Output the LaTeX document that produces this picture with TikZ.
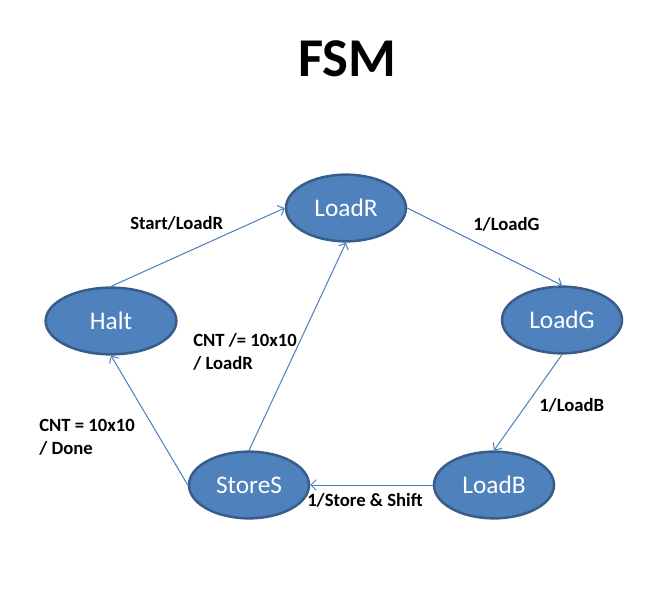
\documentclass[tikz,border=0pt]{standalone}
\usepackage{fontspec}
\setmainfont{Carlito}
\usetikzlibrary{shapes.geometric,arrows.meta}
\definecolor{stfill}{HTML}{4F81BD}
\definecolor{stdraw}{HTML}{385D8A}
\definecolor{edgecol}{HTML}{4A7EBB}
\tikzset{
  state/.style={ellipse, fill=stfill, draw=stdraw, line width=1.9pt,
    minimum width=90pt, minimum height=50pt, inner sep=0pt,
    text=white, font=\fontsize{19}{22}\selectfont},
  trans/.style={draw=edgecol, line width=0.75pt,
    -{Straight Barb[length=4pt,width=8pt,line width=0.75pt]}},
  lbl/.style={anchor=west, inner sep=0pt, align=left,
    font=\fontsize{14}{17.2}\selectfont\bfseries},
}
\begin{document}
\begin{tikzpicture}[x=0.75pt,y=-0.75pt]
\useasboundingbox (0,0) rectangle (669,614);
\node[inner sep=0pt, font=\fontsize{41}{45}\selectfont\bfseries] (title) at (347,59) {FSM};
\node[state] (LoadR) at (346,208) {LoadR};
\node[state] (LoadG) at (562,320) {LoadG};
\node[state, minimum width=98pt] (Halt) at (111,321) {Halt};
\node[state] (StoreS) at (249,485) {StoreS};
\node[state] (LoadB) at (494,485) {LoadB};
\draw[trans] (Halt.north) -- (LoadR.west);
\draw[trans] (LoadR.east) -- (LoadG.north);
\draw[trans] (LoadG.south) -- (LoadB.north);
\draw[trans] (LoadB.west) -- (StoreS.east);
\draw[trans] (StoreS.north) -- (LoadR.south);
\draw[trans] (StoreS.west) -- (Halt.south);
\node[lbl] (l1) at (130,223) {Start/LoadR};
\node[lbl] (l2) at (473,224) {1/LoadG};
\node[lbl] (l3) at (539,405) {1/LoadB};
\node[lbl] (l4) at (307,500) {1/Store \& Shift};
\node[lbl] (l5) at (193,351.5) {CNT /= 10x10\\/ LoadR};
\node[lbl] (l6) at (39,437) {CNT = 10x10\\/ Done};
\end{tikzpicture}
\end{document}
